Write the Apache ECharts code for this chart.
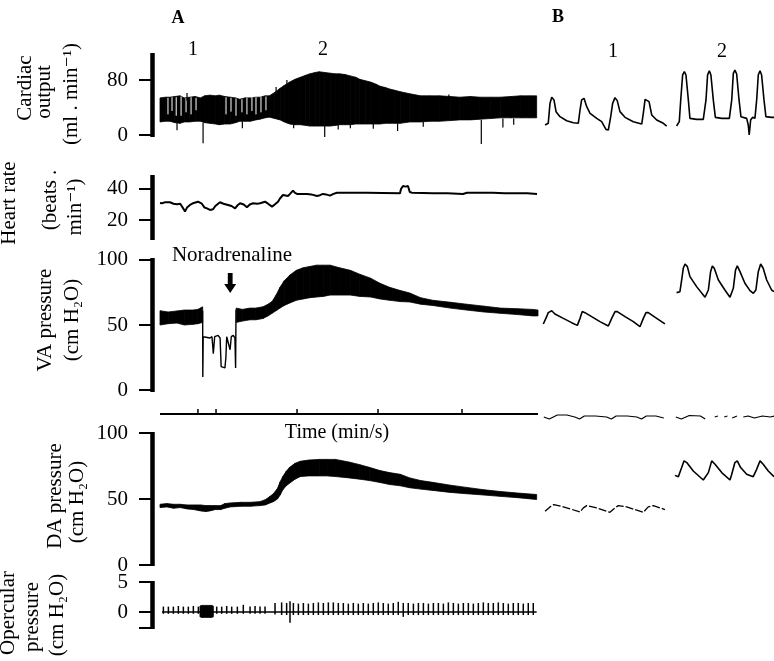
<!DOCTYPE html>
<html><head><meta charset="utf-8">
<script src="https://cdn.jsdelivr.net/npm/echarts@6/dist/echarts.min.js"></script>
<style>html,body{margin:0;padding:0;background:#fff}#c{width:774px;height:661px}</style>
</head><body><div id="c"></div>
<script>
// ---------------- DATA ----------------
// Panel A, time in s. Bands are [t, lower envelope, upper envelope]
const coBand = [[0,19,54],[4,20,55],[7.4,20,55],[11,18,56],[14.8,17,57],[18,19,54],[22,19,55],[26,20,56],[30,20,54],[33,18,57],[37,17,58],[41,16,57],[44,15,58],[48,16,56],[52,16,55],[56,18,54],[59,20,52],[63,20,54],[67,20,54],[71,22,55],[74,23,55],[78,25,57],[81,26,57],[85,24,62],[89,22,68],[92,19,72],[96,16,77],[100,15,81],[104,15,84],[108,14,87],[111,13,89],[115,13,91],[118,13,92],[122,13,91],[126,13,90],[130,14,89],[133,15,89],[137,15,88],[141,15,86],[145,16,84],[148,16,81],[152,16,79],[156,16,77],[160,16,74],[163,16,71],[167,17,69],[170,17,67],[174,17,65],[178,17,63],[185,19,60],[193,19,57],[200,20,57],[207,20,57],[215,21,56],[222,22,55],[230,22,56],[237,23,55],[245,24,55],[252,25,55],[260,25,56],[267,25,57],[274,25,57],[279,25,57]];
const coSpikes = [[12.6,18,7],[31.9,18,-12],[61,20,10],[99,16,10],[122,14,-3],[132,15,8],[141,15,10],[158,16,9],[176,17,6],[195,19,12],[238,22,-13],[254,24,11],[262,24,15],[20,50,61],[86,58,70],[94,70,80],[214,52,59]];
const coGaps = [[5.9,30,54],[8.9,35,55],[12,28,55],[15.6,28,56],[19.3,33,54],[23,30,55],[26.7,36,54],[48.9,30,55],[52.6,34,54],[56.3,28,53],[60.7,33,52],[64.4,30,54],[68.1,35,55],[71.1,30,55],[74.8,33,56],[78.5,36,56]];
const hrLine = [[0,31],[1.5,30.8],[4,31.5],[7.4,31.4],[10,30.5],[12.6,30.1],[15,30.5],[17.5,27],[18.5,25.4],[20,28],[22.2,29.7],[25,31],[28.1,31.8],[31,30.5],[33,28],[34.8,27.5],[37,26.5],[39.3,26.9],[41,29],[44.4,31.4],[47,30.5],[50.4,29.7],[53,29],[55.6,27.5],[57.5,29.5],[59.3,30.8],[62,30],[64.4,28.2],[66.5,30],[68.9,30.8],[72,30.5],[74.1,30.8],[77.8,31.8],[80,30.5],[83,28.6],[85,30],[87.4,31.8],[89,34],[91.1,36.1],[93,35.8],[94.8,35.5],[96.5,37],[98.5,38.9],[100,37.5],[101.5,36.8],[105,36.8],[108.9,36.8],[112,36.5],[116.3,35.5],[118.5,36],[120.7,36.8],[123,36.5],[125.9,35.7],[128.5,36.8],[131.1,37.6],[140,37.5],[153.3,37.6],[165,37.4],[177.8,37.2],[178.5,40],[180,41.9],[182,41.5],[183.7,41.9],[185,38],[186.7,37.6],[195,37.4],[202.2,37.2],[213,37.3],[224.4,36.8],[227.4,37.6],[235,37.5],[246.7,37.6],[255,37.3],[264.4,37.2],[272,37.3],[279.3,36.8]];
const vaBandPre = [[0,50,61],[6,51,60],[12.6,51.5,60.8],[18,50,61.5],[24.4,50.5,61.5],[28,51,62],[31.6,52,64]];
const vaBandPost = [[56.5,52,63],[61,53,62],[66.7,54,63],[71,54,63],[76.3,55,64],[80,57,66],[83,59,68],[86,61,73],[88.9,63,79],[92,65,84],[96.3,67,88.5],[101,69,92],[106,70,94],[111,71,95],[116,71.5,96],[121,72,96],[126,73,96],[133,73,94],[141,73,92],[148,72,89],[156,71.5,86],[163,70,82],[170,69,79],[178,68,76.5],[185,67.7,74.6],[193,66,71],[202,65,69],[215,63,67.5],[227,61.5,66],[240,60,64.5],[252,59,63],[265,58,62.5],[276,57,62],[280,57,61.5]];
const vaNoradrenaline = [[31.6,61],[31.7,10],[32.0,41],[33.3,41],[37,40],[38.5,41],[39.5,28],[40.5,41],[43,42],[44.5,40],[45.3,18],[48.1,17],[48.8,25],[49.4,41],[50.5,40],[51.9,31],[52.8,41],[54.3,42],[55.5,40],[56.0,17],[56.3,62]];
const injection = [52, 82.3];
const timeMarks = [28.1, 41.5, 101.5, 161.5, 223.7];
const timeSpan = [[0,0],[280,0]];
const daBand = [[0,43.5,46],[5,44,46.5],[10,43,46],[15,43.5,46],[20,42.5,45.5],[25,42,45.5],[30,41,45.5],[34,40.5,45],[37,41,45],[41,42,45],[45,42,45],[48,43,46.5],[52,44,47],[60,44.5,47.5],[67,44.5,47.5],[74,45,48],[78,45.5,49.5],[81.5,47,52],[84,48,54],[87,50,58],[89,53,63],[91,57,67],[93.5,60,71],[96,62,74],[100,65,77],[104,67,78.6],[110,67.5,79.5],[118,67.5,80],[124,67.5,80],[130,67,80],[140,66,78],[148,65,76],[155,64,74],[163,62.5,71.5],[170,61,70],[178,60,68.7],[185,58.5,66],[193,57.5,64],[202,56.5,62.6],[215,55,60.5],[227,54,58.8],[240,53,57],[252,52,55.7],[265,51,54.5],[279,49.6,53.4]];
const opBaseline = [[1.5,0],[279,0]];
const opBlock = [[29.6,-0.8,1.0],[31,-0.9,1.1],[38,-0.9,1.1],[39.5,-0.8,1.0]];
const opSpikes = [[2.5,-0.3,0.9],[6.2,-0.3,0.9],[9.9,-0.3,0.9],[13.6,-0.3,1.0],[17.3,-0.3,0.9],[21.0,-0.3,0.9],[24.7,-0.3,1.0],[28.4,-0.3,0.9],[42.0,-0.3,0.9],[45.7,-0.3,0.9],[49.4,-0.3,1.0],[53.1,-0.3,0.9],[57.3,-0.3,0.9],[61.7,-0.3,1.2],[66.7,-0.3,0.9],[70.4,-0.3,1.0],[74.1,-0.3,0.9],[77.8,-0.3,0.9],[85.2,-0.4,1.5],[90.1,-0.5,1.6],[93.8,-0.5,1.5],[96.3,-1.8,1.8],[98.8,-0.5,1.5],[102.5,-0.5,1.4],[106.2,-0.5,1.5],[109.9,-0.5,1.4],[113.6,-0.5,1.5],[117.3,-0.5,1.6],[121,-0.5,1.5],[124.7,-0.5,1.6],[128.4,-0.5,1.6],[132.1,-0.5,1.5],[135.8,-0.5,1.5],[139.5,-0.5,1.4],[143.2,-0.5,1.5],[146.9,-0.5,1.4],[150.6,-0.5,1.5],[154.3,-0.5,1.4],[158,-0.5,1.5],[161.7,-0.5,1.6],[165.4,-0.5,1.5],[169.1,-0.5,1.4],[172.8,-0.5,1.5],[176.5,-0.5,1.7],[180.2,-0.8,1.5],[183.9,-0.5,1.5],[187.7,-0.5,1.4],[191.4,-0.5,1.5],[195.1,-0.5,1.5],[198.8,-0.5,1.4],[202.5,-0.5,1.5],[206.2,-0.5,1.5],[209.9,-0.5,1.4],[213.6,-0.5,1.6],[217.3,-0.5,1.5],[221,-0.5,1.4],[224.7,-0.5,1.5],[228.4,-0.5,1.5],[232.1,-0.5,1.4],[235.8,-0.5,1.5],[239.5,-0.5,1.6],[243.2,-0.5,1.5],[246.9,-0.5,1.5],[250.6,-0.5,1.6],[254.3,-0.5,1.5],[258,-0.5,1.4],[261.7,-0.5,1.5],[265.4,-0.5,1.5],[269.1,-0.5,1.4],[272.8,-0.5,1.5],[276.5,-0.5,1.5]];

// Panel B (fast traces), time in s
const coB1 = [[0.13,14.5],[0.33,17],[0.44,46],[0.55,54.8],[0.69,51],[0.82,34],[1.07,26.7],[1.49,20.8],[1.91,17.9],[2.22,17],[2.33,36.4],[2.43,51],[2.58,53.3],[2.75,41.2],[2.96,31.5],[3.38,24.2],[3.69,19.4],[3.96,8.2],[4.11,7.3],[4.26,26.7],[4.38,46],[4.53,54.3],[4.67,50],[4.84,34],[5.16,25.7],[5.68,19.4],[6.21,16],[6.31,31.5],[6.42,51.9],[6.52,54.3],[6.67,48.5],[6.84,29.1],[7.15,21.8],[7.57,17],[7.78,13.1]];
const coB2 = [[0.10,13.1],[0.27,19.4],[0.36,51],[0.48,87.3],[0.59,92.1],[0.69,87.3],[0.84,51],[0.94,24.2],[1.36,22.8],[1.78,22.8],[1.95,51],[2.05,87.3],[2.16,93.5],[2.26,87.3],[2.41,51],[2.54,25.7],[2.94,24.2],[3.42,24.2],[3.57,51],[3.67,89.7],[3.77,94.5],[3.88,88.7],[4.03,51],[4.15,26.7],[4.51,24.2],[4.61,14.5],[4.67,0],[4.76,21.8],[4.89,25.7],[5.03,24.2],[5.14,51],[5.24,87.3],[5.35,93.5],[5.45,87.3],[5.60,51],[5.72,26.7],[6.08,25.7],[6.29,25.7]];
const vaB1 = [[0.02,50.8],[0.13,51.3],[0.23,56.4],[0.33,59.5],[0.55,61],[0.75,58.5],[1.28,55.1],[1.80,51.8],[2.16,49.7],[2.33,55.1],[2.47,60.3],[2.64,59.5],[3.06,56.4],[3.58,52.6],[4.11,49.2],[4.32,55.1],[4.53,60.3],[4.67,60.3],[5.16,56.4],[5.68,52.6],[6.10,48.7],[6.31,55.1],[6.48,59.5],[6.62,59.5],[7.15,55.1],[7.67,50.8]];
const vaB2 = [[0.10,74.9],[0.31,75.6],[0.42,84.6],[0.52,93.6],[0.63,96.9],[0.78,94.9],[0.94,87.2],[1.36,79.5],[1.89,71.3],[2.10,76.9],[2.24,91],[2.35,95.4],[2.47,93.6],[2.73,84.6],[3.14,76.9],[3.46,71.3],[3.67,78.2],[3.81,92.3],[3.92,95.4],[4.09,91],[4.40,82.1],[4.72,76.4],[4.93,74.4],[5.09,76.9],[5.24,91],[5.39,96.9],[5.55,93.6],[5.77,84.6],[6.08,76.9],[6.23,75.6]];
const timeB1 = [[0.05,-0.3],[0.4,-0.5],[0.9,-0.1],[1.5,-0.1],[2.0,-0.3],[2.3,-0.5],[2.6,-0.2],[3.3,-0.2],[4.0,-0.3],[4.3,-0.5],[4.6,-0.2],[5.3,-0.2],[5.9,-0.3],[6.2,-0.5],[6.5,-0.2],[7.1,-0.2],[7.6,-0.4]];
const timeB2 = [[0.05,-0.3],[0.4,-0.5],[0.9,-0.15],[1.6,-0.2],[1.9,-0.5],'-',[2.5,-0.3],[2.7,-0.2],'-',[3.1,-0.3],[3.3,-0.2],'-',[3.6,-0.4],[3.9,-0.2],'-',[4.3,-0.3],[4.6,-0.2],[5.0,-0.4],[5.5,-0.2],[6.0,-0.3],[6.25,-0.2]];
const daB1 = [[0.13,40.7],[0.44,44],[0.69,45.8],[0.96,45],[1.49,43.3],[2.33,40.2],[2.54,43.3],[2.75,45],[3.38,43.3],[4.21,39.9],[4.53,43.3],[4.74,45],[5.26,44],[6.31,39.9],[6.62,44],[6.94,45],[7.67,42]];
const daB2 = [[0,67.9],[0.21,66.9],[0.42,73.8],[0.57,78.9],[0.74,77.6],[1.15,71.2],[1.78,64.4],[2.10,70],[2.31,78.9],[2.52,76.3],[2.94,70],[3.46,64.4],[3.57,68.7],[3.77,77.6],[3.92,78.9],[4.13,73.8],[4.51,68.7],[4.92,66.9],[5.14,72.5],[5.35,78.9],[5.55,76.3],[5.87,71.2],[6.23,66.9]];

// tick values shown on the axes
const coTicks = [0, 80];
const hrTicks = [20, 40];
const vaTicks = [0, 50, 100];
const daTicks = [0, 50, 100];
const opTicks = [5, 0];
const opTickMarks = [5, 0, -2.67];

// ---------------- CHART ----------------
const FONT = "'Liberation Serif','Times New Roman','DejaVu Serif',serif";
const INK = '#000';
const chart = echarts.init(document.getElementById('c'), null, {renderer: 'canvas'});

// rows: [top, height, ymin, ymax]
const rows = {
  co: [53, 84, -2.9, 119.3],
  hr: [175, 65, 7.1, 49],
  va: [258, 134, -1.5, 101.5],
  tm: [404, 20, -1, 1],
  da: [432, 134, -0.76, 100.76],
  op: [581, 48, -2.83, 5.17]
};
// cols: [left, width, xmin, xmax]; panel A axis sits 8 px left of the first sample
const cols = {A: [152, 386, -5.93, 280], B1: [543, 124, 0, 7.8], B2: [675, 99, 0, 6.23]};
const grids = [], xAxes = [], yAxes = [], gIndex = {};
function addGrid(col, row, axisCfg) {
  const c = cols[col], r = rows[row];
  const i = grids.length;
  gIndex[col + row] = i;
  grids.push({left: c[0], top: r[0], width: c[1], height: r[1]});
  xAxes.push({type: 'value', gridIndex: i, min: c[2], max: c[3], show: false});
  const y = {type: 'value', gridIndex: i, min: r[2], max: r[3], splitLine: {show: false}};
  if (axisCfg) {
    Object.assign(y, {
      show: true,
      axisLine: {show: true, onZero: false, lineStyle: {color: INK, width: 4.5, cap: 'butt'}},
      axisTick: {show: true, length: 13, lineStyle: {color: INK, width: 2}, customValues: axisCfg.ticks},
      axisLabel: {show: true, customValues: axisCfg.labels, margin: 24, color: INK, fontFamily: FONT, fontSize: 21}
    });
  } else y.show = false;
  yAxes.push(y);
}
addGrid('A', 'co', {ticks: coTicks, labels: coTicks});
addGrid('A', 'hr', {ticks: hrTicks, labels: hrTicks});
addGrid('A', 'va', {ticks: vaTicks, labels: vaTicks});
addGrid('A', 'tm', null);
addGrid('A', 'da', {ticks: daTicks, labels: daTicks});
addGrid('A', 'op', {ticks: opTickMarks, labels: opTicks});
['B1', 'B2'].forEach(c => ['co', 'va', 'tm', 'da'].forEach(r => addGrid(c, r, null)));

function bandRender(color) {
  return function (params, api) {
    const i = params.dataIndexInside;
    if (i === 0) return;
    const p0 = api.coord([api.value(0, i - 1), api.value(2, i - 1)]);
    const p1 = api.coord([api.value(0, i), api.value(2, i)]);
    const p2 = api.coord([api.value(0, i), api.value(1, i)]);
    const p3 = api.coord([api.value(0, i - 1), api.value(1, i - 1)]);
    return {type: 'polygon', shape: {points: [p0, p1, p2, p3]}, style: {fill: color, stroke: color, lineWidth: 0.8}};
  };
}
function vlineRender(color, w) {
  return function (params, api) {
    const a = api.coord([api.value(0), api.value(1)]);
    const b = api.coord([api.value(0), api.value(2)]);
    return {type: 'line', shape: {x1: a[0], y1: a[1], x2: b[0], y2: b[1]}, style: {stroke: color, lineWidth: w}};
  };
}
function band(key, data) {
  const g = gIndex[key];
  return {type: 'custom', xAxisIndex: g, yAxisIndex: g, data, renderItem: bandRender(INK), encode: {x: 0, y: [1, 2]}, clip: false, silent: true};
}
function vlines(key, data, color, w) {
  const g = gIndex[key];
  return {type: 'custom', xAxisIndex: g, yAxisIndex: g, data, renderItem: vlineRender(color, w), encode: {x: 0, y: [1, 2]}, clip: false, silent: true};
}
function line(key, data, w, extra) {
  const g = gIndex[key];
  return Object.assign({type: 'line', xAxisIndex: g, yAxisIndex: g, data, showSymbol: false, symbol: 'none', clip: false, silent: true,
    lineStyle: {color: INK, width: w}, animation: false}, extra || {});
}

const series = [
  band('Aco', coBand),
  vlines('Aco', coGaps, '#fff', 1),
  vlines('Aco', coSpikes, INK, 1.2),
  line('Ahr', hrLine, 2),
  band('Ava', vaBandPre),
  band('Ava', vaBandPost),
  line('Ava', vaNoradrenaline, 1.4, {
    markPoint: {
      symbol: 'path://M3,0 L7,0 L7,11 L10,11 L5,20 L0,11 L3,11 Z',
      symbolSize: [12, 20], silent: true, label: {show: false},
      itemStyle: {color: INK},
      data: [{coord: injection}]
    }
  }),
  line('Atm', timeSpan, 1.8),
  vlines('Atm', timeMarks.map(t => [t, 0, 0.5]), INK, 1.5),
  band('Ada', daBand),
  line('Aop', opBaseline, 1.6),
  band('Aop', opBlock),
  vlines('Aop', opSpikes, INK, 1.5),
  line('B1co', coB1, 1.6),
  line('B2co', coB2, 1.6),
  line('B1va', vaB1, 1.6),
  line('B2va', vaB2, 1.6),
  line('B1tm', timeB1, 1.2),
  line('B2tm', timeB2, 1.2),
  line('B1da', daB1, 1.3, {lineStyle: {color: INK, width: 1.3, type: [8, 2]}}),
  line('B2da', daB2, 1.6)
];

function vtext(text, x, y) {
  return {type: 'text', x, y, rotation: Math.PI / 2, silent: true,
    style: {text, fill: INK, font: '21px ' + FONT, textAlign: 'center', textVerticalAlign: 'middle'}};
}
function htext(text, x, y, size, bold) {
  return {type: 'text', x, y, silent: true,
    style: {text, fill: INK, font: (bold ? 'bold ' : '') + size + 'px ' + FONT, textAlign: 'center', textVerticalAlign: 'middle'}};
}
const graphic = [
  htext('A', 178, 18, 18, true),
  htext('B', 558, 17, 18, true),
  htext('1', 193, 50, 20),
  htext('2', 323, 50, 20),
  htext('1', 613, 52, 20),
  htext('2', 722, 52, 20),
  htext('Noradrenaline', 232, 255, 21),
  htext('Time (min/s)', 337, 433, 20),
  vtext('Cardiac', 25, 88),
  vtext('output', 44, 92),
  vtext('(ml . min\u207B\u00B9)', 71, 94),
  vtext('Heart rate', 9, 203),
  vtext('(beats .', 50, 200),
  vtext('min\u207B\u00B9)', 75, 207),
  vtext('VA pressure', 45, 320),
  vtext('(cm H\u2082O)', 72, 320),
  vtext('DA pressure', 55, 496),
  vtext('(cm H\u2082O)', 77, 502),
  vtext('Opercular', 8, 613),
  vtext('pressure', 32, 617),
  vtext('(cm H\u2082O)', 57, 615)
];

chart.setOption({
  backgroundColor: '#fff',
  animation: false,
  grid: grids,
  xAxis: xAxes,
  yAxis: yAxes,
  series,
  graphic
});
</script>
</body></html>
